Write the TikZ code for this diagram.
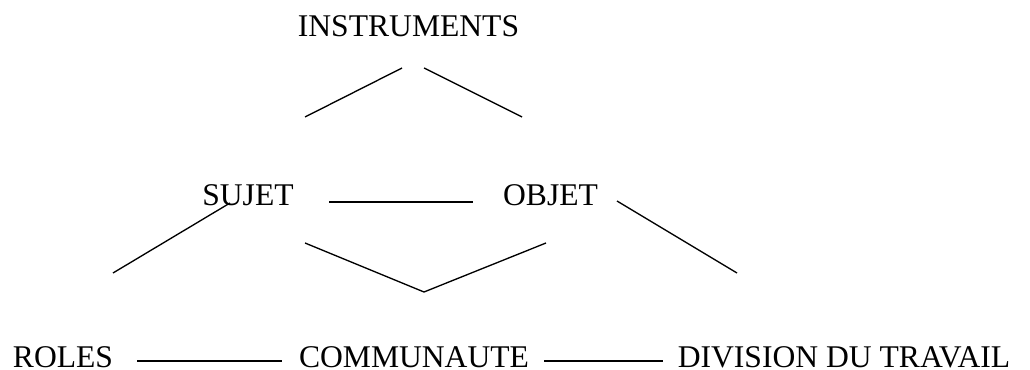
\documentclass[tikz,border=0pt]{standalone}
\usepackage{fontspec}
\setmainfont{Liberation Serif}
\usepackage{tikz}

\tikzset{
	label/.style = {inner sep=0pt, anchor=base, text depth=0pt, font=\fontsize{23.7}{28}\selectfont},
	trait/.style = {black, line width=1pt}
}

\begin{document}
\begin{tikzpicture}[x=0.75pt, y=-0.75pt]
	
	\useasboundingbox (0,0) rectangle (1030,370);
	
	\node[label] (instruments) at (408.5,37) {INSTRUMENTS};
	\node[label] (sujet) at (248,205) {SUJET};
	\node[label] (objet) at (550.5,205) {OBJET};
	\node[label] (roles) at (63,367) {ROLES};
	\node[label] (communaute) at (414,367) {COMMUNAUTE};
	\node[label] (division) at (844,367) {DIVISION DU TRAVAIL};
	
	\coordinate (i1) at (305,117);
	\coordinate (i2) at (402,68);
	\coordinate (i3) at (424,68);
	\coordinate (i4) at (522,117);
	\coordinate (so1) at (329,202);
	\coordinate (so2) at (473,202);
	\coordinate (s1) at (230,203);
	\coordinate (s2) at (113,273);
	\coordinate (o1) at (617,201);
	\coordinate (o2) at (737,273);
	\coordinate (v1) at (305,243);
	\coordinate (v2) at (424,292);
	\coordinate (v3) at (546,243);
	\coordinate (rc1) at (137,361);
	\coordinate (rc2) at (282,361);
	\coordinate (cd1) at (544,361);
	\coordinate (cd2) at (663,361);
	
	\draw[trait] (i1) -- (i2);
	\draw[trait] (i3) -- (i4);
	\draw[trait] (so1) -- (so2);
	\draw[trait] (s1) -- (s2);
	\draw[trait] (o1) -- (o2);
	\draw[trait] (v1) -- (v2) -- (v3);
	\draw[trait] (rc1) -- (rc2);
	\draw[trait] (cd1) -- (cd2);
	
\end{tikzpicture}
\end{document}
